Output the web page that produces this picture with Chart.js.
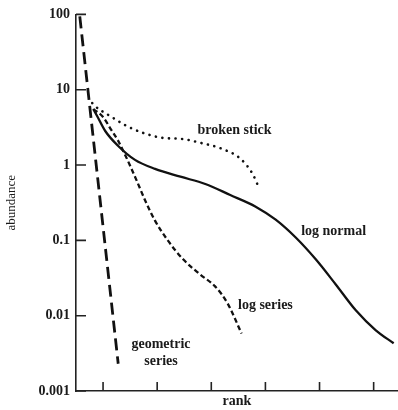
<!DOCTYPE html>
<html>
<head>
<meta charset="utf-8">
<script src="https://cdn.jsdelivr.net/npm/chart.js@4"></script>
<style>
  body { margin: 0; background: #fff; }
  #wrap { width: 398px; height: 410px; }
</style>
</head>
<body>
<div id="wrap"><canvas id="rankChart" width="398" height="410"></canvas></div>
<script>
// values (rank on a linear axis, abundance on a log axis)
const geometricRank = [0.57, 1.28];
const geometricAbund = [94, 0.0023];

const brokenStickRank = [0.8, 0.85, 1.13, 1.44, 1.74, 2.11, 2.46, 2.8, 3.2, 3.54, 3.76, 3.87];
const brokenStickAbund = [6.65, 6.07, 4.48, 3.3, 2.67, 2.29, 2.22, 1.97, 1.64, 1.21, 0.77, 0.52];

const logNormalRank = [0.82, 0.89, 1.04, 1.28, 1.59, 1.96, 2.43, 2.89, 3.35, 3.82, 4.19, 4.56, 4.93, 5.3, 5.67, 6.04, 6.37];
const logNormalAbund = [5.54, 4.48, 2.83, 1.79, 1.17, 0.89, 0.7, 0.56, 0.4, 0.28, 0.188, 0.109, 0.056, 0.026, 0.0118, 0.0064, 0.0043];

const logSeriesRank = [0.82, 1.0, 1.13, 1.28, 1.39, 1.5, 1.63, 1.78, 1.96, 2.2, 2.48, 2.8, 3.07, 3.3, 3.56];
const logSeriesAbund = [5.54, 4.34, 3.1, 2.09, 1.45, 0.98, 0.6, 0.336, 0.183, 0.099, 0.056, 0.035, 0.0245, 0.0146, 0.0058];

const rankTicks = [1, 2, 3, 4, 5, 6];
const abundTicks = [100, 10, 1, 0.1, 0.01, 0.001];
const abundTickLabels = ['100', '10', '1', '0.1', '0.01', '0.001'];

// curve labels, placed in data coordinates
const curveLabels = [
  { text: 'broken stick', x: 3.43, y: 2.9 },
  { text: 'log normal', x: 5.26, y: 0.13 },
  { text: 'log series', x: 4.0, y: 0.0137 },
  { text: 'geometric', x: 2.07, y: 0.0042 },
  { text: 'series', x: 2.07, y: 0.0025 }
];

const toPoints = (xs, ys) => xs.map((x, i) => ({ x: x, y: ys[i] }));
const serif = '"Liberation Serif", "DejaVu Serif", serif';

// ticks point into the plot, and the curve names sit beside the curves
const insideTicks = {
  id: 'insideTicks',
  afterDraw(chart) {
    const ctx = chart.ctx;
    const xs = chart.scales.x;
    const ys = chart.scales.y;
    const area = chart.chartArea;
    ctx.save();
    ctx.strokeStyle = '#222';
    ctx.lineWidth = 1.6;
    ctx.beginPath();
    rankTicks.forEach(t => {
      const px = xs.getPixelForValue(t);
      ctx.moveTo(px, area.bottom);
      ctx.lineTo(px, area.bottom - 9);
    });
    abundTicks.forEach(t => {
      const py = ys.getPixelForValue(t);
      ctx.moveTo(area.left, py);
      ctx.lineTo(area.left + 10, py);
    });
    ctx.stroke();

    ctx.fillStyle = '#1a1a1a';
    ctx.font = 'bold 14px ' + serif;
    ctx.textAlign = 'center';
    ctx.textBaseline = 'middle';
    curveLabels.forEach(l => {
      ctx.fillText(l.text, xs.getPixelForValue(l.x), ys.getPixelForValue(l.y));
    });
    ctx.restore();
  }
};

new Chart(document.getElementById('rankChart'), {
  type: 'line',
  data: {
    datasets: [
      {
        label: 'geometric series',
        data: toPoints(geometricRank, geometricAbund),
        borderColor: '#111',
        borderWidth: 2.8,
        borderDash: [12, 6],
        tension: 0
      },
      {
        label: 'broken stick',
        data: toPoints(brokenStickRank, brokenStickAbund),
        borderColor: '#111',
        borderWidth: 2.6,
        borderDash: [0.1, 6.5],
        borderCapStyle: 'round',
        cubicInterpolationMode: 'monotone'
      },
      {
        label: 'log normal',
        data: toPoints(logNormalRank, logNormalAbund),
        borderColor: '#111',
        borderWidth: 2.3,
        cubicInterpolationMode: 'monotone'
      },
      {
        label: 'log series',
        data: toPoints(logSeriesRank, logSeriesAbund),
        borderColor: '#111',
        borderWidth: 2.3,
        borderDash: [5, 3],
        cubicInterpolationMode: 'monotone'
      }
    ]
  },
  options: {
    responsive: false,
    animation: false,
    layout: { padding: { top: 13, right: 0, left: 0, bottom: 0 } },
    elements: { point: { radius: 0 } },
    plugins: { legend: { display: false }, tooltip: { enabled: false } },
    scales: {
      x: {
        type: 'linear',
        min: 0.5,
        max: 6.45,
        grid: { display: false, drawTicks: false },
        border: { color: '#222', width: 1.6 },
        ticks: { display: false },
        title: {
          display: true,
          text: 'rank',
          color: '#1a1a1a',
          font: { family: serif, size: 14, weight: 'bold' },
          padding: { top: 2, bottom: 0 }
        },
        afterFit: s => { s.height = 19; }
      },
      y: {
        type: 'logarithmic',
        min: 0.001,
        max: 100,
        grid: { display: false, drawTicks: false },
        border: { color: '#222', width: 1.6 },
        afterBuildTicks: s => { s.ticks = abundTicks.map(v => ({ value: v })); },
        ticks: {
          color: '#1a1a1a',
          padding: 6,
          font: { family: serif, size: 14, weight: 'bold' },
          callback: v => abundTickLabels[abundTicks.indexOf(v)]
        },
        title: {
          display: true,
          text: 'abundance',
          color: '#1a1a1a',
          font: { family: serif, size: 13 },
          padding: { top: 4, bottom: 0 }
        },
        afterFit: s => { s.width = 76; }
      }
    }
  },
  plugins: [insideTicks]
});
</script>
</body>
</html>
